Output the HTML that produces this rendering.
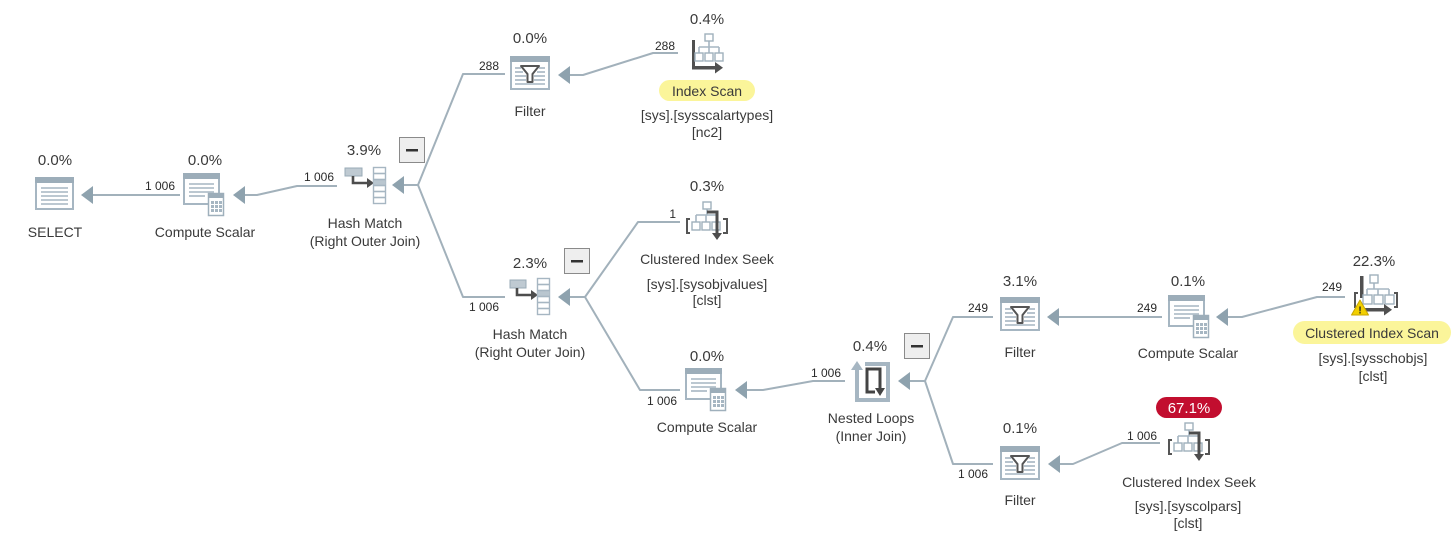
<!DOCTYPE html>
<html><head><meta charset="utf-8">
<style>
html,body{margin:0;padding:0;background:#fff;}
svg{display:block;}
text{font-family:"Liberation Sans",Arial,sans-serif;}
.p{font-size:15px;fill:#3a3a3a;text-anchor:middle;}
.l{font-size:14px;fill:#3a3a3a;text-anchor:middle;}
.e{font-size:12px;fill:#2a2a2a;text-anchor:end;}
.c{fill:none;stroke:#a2b1bb;stroke-width:2;stroke-linejoin:round;}
.ah{fill:#8ea2ae;}
.lb{fill:none;stroke:#a6b6c2;stroke-width:1.6;}
.bx{fill:#fff;stroke:#9fb0bc;stroke-width:1.4;}
.dk{fill:none;stroke:#4d4d4d;stroke-width:2.6;}
</style></head>
<body>
<svg width="1453" height="543" viewBox="0 0 1453 543" xmlns="http://www.w3.org/2000/svg">
<rect width="1453" height="543" fill="#fff"/>

<!-- ===== connectors ===== -->
<!-- SELECT <- CS1 -->
<polyline class="c" points="180,195 90,195"/>
<polygon class="ah" points="81,195 93,186 93,204"/>
<text class="e" x="175" y="190">1 006</text>

<!-- CS1 <- HM1 -->
<polyline class="c" points="337,186 297,186 257,195 243,195"/>
<polygon class="ah" points="233,195 245,186 245,204"/>
<text class="e" x="334" y="181">1 006</text>

<!-- HM1 fork -->
<polyline class="c" points="402,185 418,185"/>
<polygon class="ah" points="392,185 404,176 404,194"/>
<polyline class="c" points="505,74 463,74 418,185 463,297 505,297"/>
<text class="e" x="499" y="70">288</text>
<text class="e" x="499" y="311">1 006</text>

<!-- Filter1 <- IndexScan -->
<polyline class="c" points="678,53 653,53 583,75 568,75"/>
<polygon class="ah" points="558,75 570,66 570,84"/>
<text class="e" x="675" y="50">288</text>

<!-- HM2 fork -->
<polyline class="c" points="568,297 585,297"/>
<polygon class="ah" points="558,297 570,288 570,306"/>
<polyline class="c" points="680,222 638,222 585,297 640,390 680,390"/>
<text class="e" x="676" y="218">1</text>
<text class="e" x="677" y="405">1 006</text>

<!-- CS2 <- NL -->
<polyline class="c" points="845,381 813,381 763,390 745,390"/>
<polygon class="ah" points="735,390 747,381 747,399"/>
<text class="e" x="841" y="377">1 006</text>

<!-- NL fork -->
<polyline class="c" points="908,381 925,381"/>
<polygon class="ah" points="898,381 910,372 910,390"/>
<polyline class="c" points="993,317 953,317 925,381 953,464 993,464"/>
<text class="e" x="988" y="312">249</text>
<text class="e" x="988" y="478">1 006</text>

<!-- Filter2 <- CS3 -->
<polyline class="c" points="1162,317 1057,317"/>
<polygon class="ah" points="1047,317 1059,308 1059,326"/>
<text class="e" x="1157" y="312">249</text>

<!-- CS3 <- CIScan -->
<polyline class="c" points="1345,297 1317,297 1242,317 1226,317"/>
<polygon class="ah" points="1216,317 1228,308 1228,326"/>
<text class="e" x="1342" y="291">249</text>

<!-- Filter3 <- CISeek -->
<polyline class="c" points="1160,443 1122,443 1073,464 1058,464"/>
<polygon class="ah" points="1048,464 1060,455 1060,473"/>
<text class="e" x="1157" y="440">1 006</text>

<!-- ===== SELECT ===== -->
<g>
<rect x="36" y="178" width="37" height="31" fill="#fff" stroke="#a6b6c2" stroke-width="2"/>
<rect x="35" y="177" width="39" height="6" fill="#9cadb9"/>
<line class="lb" x1="41" y1="188" x2="68" y2="188"/>
<line class="lb" x1="41" y1="192" x2="68" y2="192"/>
<line class="lb" x1="41" y1="196" x2="68" y2="196"/>
<line class="lb" x1="41" y1="200" x2="68" y2="200"/>
<line class="lb" x1="41" y1="204" x2="68" y2="204"/>
</g>
<text class="p" x="55" y="165">0.0%</text>
<text class="l" x="55" y="237">SELECT</text>

<!-- ===== Compute Scalar 1 (x0=183,y0=173) ===== -->
<g transform="translate(183,173)">
<rect x="1" y="1" width="35" height="30" fill="#fff" stroke="#a6b6c2" stroke-width="2"/>
<rect x="0" y="0" width="37" height="6" fill="#9cadb9"/>
<line class="lb" x1="6" y1="11" x2="31" y2="11"/>
<line class="lb" x1="6" y1="15" x2="31" y2="15"/>
<line class="lb" x1="6" y1="19" x2="31" y2="19"/>
<line class="lb" x1="6" y1="23" x2="22" y2="23"/>
<rect x="25.5" y="20.5" width="15" height="22" fill="#fff" stroke="#9fb0bc" stroke-width="1.5"/>
<rect x="25" y="20" width="16" height="5" fill="#9cadb9"/>
<g fill="#a6b6c2"><rect x="28" y="28" width="3" height="3"/><rect x="32" y="28" width="3" height="3"/><rect x="36" y="28" width="3" height="3"/><rect x="28" y="32" width="3" height="3"/><rect x="32" y="32" width="3" height="3"/><rect x="36" y="32" width="3" height="3"/><rect x="28" y="36" width="3" height="3"/><rect x="32" y="36" width="3" height="3"/><rect x="36" y="36" width="3" height="3"/></g>
</g>
<text class="p" x="205" y="165">0.0%</text>
<text class="l" x="205" y="237">Compute Scalar</text>

<!-- ===== Hash Match 1 (col 373,167) ===== -->
<g transform="translate(373,167)">
<rect x="-28" y="1" width="17" height="8" fill="#bfcad2" stroke="#9aabb7" stroke-width="1"/>
<path class="dk" d="M-20,9 L-20,16 L-5,16" stroke-width="3"/>
<polygon points="1,16 -6,11 -6,21" fill="#4d4d4d"/>
<rect x="0.5" y="0.5" width="12" height="36" fill="#fff" stroke="#a6b6c2" stroke-width="1.4"/>
<rect x="0.5" y="12.5" width="12" height="6" fill="#b9c6cf"/>
<line class="lb" x1="0" y1="6.5" x2="13" y2="6.5" stroke-width="1"/>
<line class="lb" x1="0" y1="12.5" x2="13" y2="12.5" stroke-width="1"/>
<line class="lb" x1="0" y1="18.5" x2="13" y2="18.5" stroke-width="1"/>
<line class="lb" x1="0" y1="24.5" x2="13" y2="24.5" stroke-width="1"/>
<line class="lb" x1="0" y1="30.5" x2="13" y2="30.5" stroke-width="1"/>
</g>
<text class="p" x="364" y="155">3.9%</text>
<rect x="399.5" y="137.5" width="25" height="25" fill="#eeeeee" stroke="#8a8a8a" stroke-width="1"/>
<rect x="406" y="149" width="12" height="2.5" fill="#333"/>
<text class="l" x="365" y="228">Hash Match</text>
<text class="l" x="365" y="246">(Right Outer Join)</text>

<!-- ===== Filter 1 (510,56) ===== -->
<g transform="translate(510,56)">
<rect x="1" y="1" width="38" height="32" fill="#fff" stroke="#a6b6c2" stroke-width="2"/>
<rect x="0" y="0" width="40" height="6" fill="#9cadb9"/>
<line class="lb" x1="5" y1="12" x2="11" y2="12"/><line class="lb" x1="29" y1="12" x2="35" y2="12"/>
<line class="lb" x1="5" y1="16" x2="13" y2="16"/><line class="lb" x1="27" y1="16" x2="35" y2="16"/>
<line class="lb" x1="5" y1="20" x2="16" y2="20"/><line class="lb" x1="24" y1="20" x2="35" y2="20"/>
<line class="lb" x1="5" y1="24" x2="16" y2="24"/><line class="lb" x1="24" y1="24" x2="35" y2="24"/>
<line class="lb" x1="5" y1="28" x2="35" y2="28"/>
<path d="M11,10 L29,10 L22.5,18 L22.5,26 L17.5,26 L17.5,18 Z" fill="#fff" stroke="#555" stroke-width="2" stroke-linejoin="round"/>
</g>
<text class="p" x="530" y="43">0.0%</text>
<text class="l" x="530" y="116">Filter</text>

<!-- ===== Index Scan ===== -->
<g>
<rect x="692" y="40" width="3" height="29" fill="#505050"/>
<rect x="692" y="66" width="24" height="3.5" fill="#505050"/>
<polygon points="723,67.7 715,62 715,73.5" fill="#505050"/>
<line class="lb" x1="709" y1="41" x2="709" y2="47" stroke-width="1.2"/>
<line class="lb" x1="699" y1="47" x2="719" y2="47" stroke-width="1.2"/>
<line class="lb" x1="699" y1="47" x2="699" y2="53" stroke-width="1.2"/>
<line class="lb" x1="709" y1="47" x2="709" y2="53" stroke-width="1.2"/>
<line class="lb" x1="719" y1="47" x2="719" y2="53" stroke-width="1.2"/>
<rect class="bx" x="705" y="34" width="8" height="7"/>
<rect class="bx" x="695" y="53" width="8" height="8"/>
<rect class="bx" x="705" y="53" width="8" height="8"/>
<rect class="bx" x="715" y="53" width="8" height="8"/>
</g>
<text class="p" x="707" y="24">0.4%</text>
<rect x="659" y="80" width="96" height="21" rx="10.5" fill="#fbf59a"/>
<text class="l" x="707" y="96">Index Scan</text>
<text class="l" x="707" y="120">[sys].[sysscalartypes]</text>
<text class="l" x="707" y="137">[nc2]</text>

<!-- ===== Clustered Index Seek (sysobjvalues) ox=686 oy=202 ===== -->
<g transform="translate(686,202)">
<line class="lb" x1="21" y1="7" x2="21" y2="13" stroke-width="1.2"/>
<line class="lb" x1="10" y1="13" x2="30" y2="13" stroke-width="1.2"/>
<line class="lb" x1="10" y1="13" x2="10" y2="20" stroke-width="1.2"/>
<line class="lb" x1="20" y1="13" x2="20" y2="20" stroke-width="1.2"/>
<rect class="bx" x="17" y="0" width="8" height="7"/>
<rect class="bx" x="6" y="20" width="8" height="8"/>
<rect class="bx" x="16" y="20" width="8" height="8"/>
<rect class="bx" x="26" y="20" width="8" height="8"/>
<path d="M4,17 L1,17 L1,31 L4,31" fill="none" stroke="#555" stroke-width="2"/>
<path d="M37,17 L41,17 L41,31 L37,31" fill="none" stroke="#555" stroke-width="2"/>
<path d="M21,10 L31,10 L31,32" fill="none" stroke="#4d4d4d" stroke-width="3"/>
<polygon points="26,31 36,31 31,38" fill="#4d4d4d"/>
</g>
<text class="p" x="707" y="191">0.3%</text>
<text class="l" x="707" y="264">Clustered Index Seek</text>
<text class="l" x="707" y="289">[sys].[sysobjvalues]</text>
<text class="l" x="707" y="305">[clst]</text>

<!-- ===== Hash Match 2 (col 537,278) ===== -->
<g transform="translate(537,278)">
<rect x="-27" y="2" width="16" height="8" fill="#bfcad2" stroke="#9aabb7" stroke-width="1"/>
<path class="dk" d="M-20,10 L-20,17 L-5,17" stroke-width="3"/>
<polygon points="1,17 -6,12 -6,22" fill="#4d4d4d"/>
<rect x="0.5" y="0.5" width="12" height="36" fill="#fff" stroke="#a6b6c2" stroke-width="1.4"/>
<rect x="0.5" y="12.5" width="12" height="6" fill="#b9c6cf"/>
<line class="lb" x1="0" y1="6.5" x2="13" y2="6.5" stroke-width="1"/>
<line class="lb" x1="0" y1="12.5" x2="13" y2="12.5" stroke-width="1"/>
<line class="lb" x1="0" y1="18.5" x2="13" y2="18.5" stroke-width="1"/>
<line class="lb" x1="0" y1="24.5" x2="13" y2="24.5" stroke-width="1"/>
<line class="lb" x1="0" y1="30.5" x2="13" y2="30.5" stroke-width="1"/>
</g>
<text class="p" x="530" y="268">2.3%</text>
<rect x="564.5" y="248.5" width="25" height="25" fill="#eeeeee" stroke="#8a8a8a" stroke-width="1"/>
<rect x="571" y="260" width="12" height="2.5" fill="#333"/>
<text class="l" x="530" y="339">Hash Match</text>
<text class="l" x="530" y="357">(Right Outer Join)</text>

<!-- ===== Compute Scalar 2 (685,368) ===== -->
<g transform="translate(685,368)">
<rect x="1" y="1" width="35" height="30" fill="#fff" stroke="#a6b6c2" stroke-width="2"/>
<rect x="0" y="0" width="37" height="6" fill="#9cadb9"/>
<line class="lb" x1="6" y1="11" x2="31" y2="11"/>
<line class="lb" x1="6" y1="15" x2="31" y2="15"/>
<line class="lb" x1="6" y1="19" x2="31" y2="19"/>
<line class="lb" x1="6" y1="23" x2="22" y2="23"/>
<rect x="25.5" y="20.5" width="15" height="22" fill="#fff" stroke="#9fb0bc" stroke-width="1.5"/>
<rect x="25" y="20" width="16" height="5" fill="#9cadb9"/>
<g fill="#a6b6c2"><rect x="28" y="28" width="3" height="3"/><rect x="32" y="28" width="3" height="3"/><rect x="36" y="28" width="3" height="3"/><rect x="28" y="32" width="3" height="3"/><rect x="32" y="32" width="3" height="3"/><rect x="36" y="32" width="3" height="3"/><rect x="28" y="36" width="3" height="3"/><rect x="32" y="36" width="3" height="3"/><rect x="36" y="36" width="3" height="3"/></g>
</g>
<text class="p" x="707" y="361">0.0%</text>
<text class="l" x="707" y="432">Compute Scalar</text>

<!-- ===== Nested Loops ===== -->
<g>
<path d="M857,370 L857,400 L888,400 L888,364 L865,364" fill="none" stroke="#a6b6c2" stroke-width="4"/>
<polygon points="857,361 851,370 863,370" fill="#a6b6c2"/>
<path d="M875,392 L867,392 L867,369 L880,369 L880,389" fill="none" stroke="#444" stroke-width="3"/>
<polygon points="880,396 875,388 885,388" fill="#444"/>
</g>
<text class="p" x="870" y="351">0.4%</text>
<rect x="904.5" y="333.5" width="25" height="25" fill="#eeeeee" stroke="#8a8a8a" stroke-width="1"/>
<rect x="911" y="345" width="12" height="2.5" fill="#333"/>
<text class="l" x="871" y="423">Nested Loops</text>
<text class="l" x="871" y="441">(Inner Join)</text>

<!-- ===== Filter 2 (1000,297) ===== -->
<g transform="translate(1000,297)">
<rect x="1" y="1" width="38" height="32" fill="#fff" stroke="#a6b6c2" stroke-width="2"/>
<rect x="0" y="0" width="40" height="6" fill="#9cadb9"/>
<line class="lb" x1="5" y1="12" x2="11" y2="12"/><line class="lb" x1="29" y1="12" x2="35" y2="12"/>
<line class="lb" x1="5" y1="16" x2="13" y2="16"/><line class="lb" x1="27" y1="16" x2="35" y2="16"/>
<line class="lb" x1="5" y1="20" x2="16" y2="20"/><line class="lb" x1="24" y1="20" x2="35" y2="20"/>
<line class="lb" x1="5" y1="24" x2="16" y2="24"/><line class="lb" x1="24" y1="24" x2="35" y2="24"/>
<line class="lb" x1="5" y1="28" x2="35" y2="28"/>
<path d="M11,10 L29,10 L22.5,18 L22.5,26 L17.5,26 L17.5,18 Z" fill="#fff" stroke="#555" stroke-width="2" stroke-linejoin="round"/>
</g>
<text class="p" x="1020" y="286">3.1%</text>
<text class="l" x="1020" y="357">Filter</text>

<!-- ===== Compute Scalar 3 (1168,295) ===== -->
<g transform="translate(1168,295)">
<rect x="1" y="1" width="35" height="30" fill="#fff" stroke="#a6b6c2" stroke-width="2"/>
<rect x="0" y="0" width="37" height="6" fill="#9cadb9"/>
<line class="lb" x1="6" y1="11" x2="31" y2="11"/>
<line class="lb" x1="6" y1="15" x2="31" y2="15"/>
<line class="lb" x1="6" y1="19" x2="31" y2="19"/>
<line class="lb" x1="6" y1="23" x2="22" y2="23"/>
<rect x="25.5" y="20.5" width="15" height="22" fill="#fff" stroke="#9fb0bc" stroke-width="1.5"/>
<rect x="25" y="20" width="16" height="5" fill="#9cadb9"/>
<g fill="#a6b6c2"><rect x="28" y="28" width="3" height="3"/><rect x="32" y="28" width="3" height="3"/><rect x="36" y="28" width="3" height="3"/><rect x="28" y="32" width="3" height="3"/><rect x="32" y="32" width="3" height="3"/><rect x="36" y="32" width="3" height="3"/><rect x="28" y="36" width="3" height="3"/><rect x="32" y="36" width="3" height="3"/><rect x="36" y="36" width="3" height="3"/></g>
</g>
<text class="p" x="1188" y="286">0.1%</text>
<text class="l" x="1188" y="358">Compute Scalar</text>

<!-- ===== Clustered Index Scan ===== -->
<g>
<rect x="1360" y="276" width="3.5" height="22" fill="#505050"/>
<line class="lb" x1="1374" y1="283" x2="1374" y2="289" stroke-width="1.2"/>
<line class="lb" x1="1367" y1="289" x2="1389" y2="289" stroke-width="1.2"/>
<line class="lb" x1="1367" y1="289" x2="1367" y2="295" stroke-width="1.2"/>
<line class="lb" x1="1378" y1="289" x2="1378" y2="295" stroke-width="1.2"/>
<line class="lb" x1="1389" y1="289" x2="1389" y2="295" stroke-width="1.2"/>
<rect class="bx" x="1370" y="275" width="8" height="8"/>
<rect class="bx" x="1363" y="295" width="9" height="9"/>
<rect class="bx" x="1374" y="295" width="9" height="9"/>
<rect class="bx" x="1385" y="295" width="9" height="9"/>
<path d="M1358,293 L1355,293 L1355,307 L1358,307" fill="none" stroke="#555" stroke-width="2"/>
<path d="M1394,293 L1397,293 L1397,307 L1394,307" fill="none" stroke="#555" stroke-width="2"/>
<rect x="1362" y="308" width="23" height="3.5" fill="#505050"/>
<polygon points="1392,309.7 1384,304 1384,315.5" fill="#505050"/>
<polygon points="1360,300 1368.5,315 1351.5,315" fill="#f2cf00" stroke="#c8a600" stroke-width="1" stroke-linejoin="round"/>
<text x="1360" y="313.5" font-size="10" font-weight="bold" fill="#222" text-anchor="middle">!</text>
</g>
<text class="p" x="1374" y="266">22.3%</text>
<rect x="1293" y="321" width="158" height="23" rx="11.5" fill="#fbf59a"/>
<text class="l" x="1372" y="338">Clustered Index Scan</text>
<text class="l" x="1373" y="363">[sys].[sysschobjs]</text>
<text class="l" x="1373" y="381">[clst]</text>

<!-- ===== Filter 3 (1000,446) ===== -->
<g transform="translate(1000,446)">
<rect x="1" y="1" width="38" height="32" fill="#fff" stroke="#a6b6c2" stroke-width="2"/>
<rect x="0" y="0" width="40" height="6" fill="#9cadb9"/>
<line class="lb" x1="5" y1="12" x2="11" y2="12"/><line class="lb" x1="29" y1="12" x2="35" y2="12"/>
<line class="lb" x1="5" y1="16" x2="13" y2="16"/><line class="lb" x1="27" y1="16" x2="35" y2="16"/>
<line class="lb" x1="5" y1="20" x2="16" y2="20"/><line class="lb" x1="24" y1="20" x2="35" y2="20"/>
<line class="lb" x1="5" y1="24" x2="16" y2="24"/><line class="lb" x1="24" y1="24" x2="35" y2="24"/>
<line class="lb" x1="5" y1="28" x2="35" y2="28"/>
<path d="M11,10 L29,10 L22.5,18 L22.5,26 L17.5,26 L17.5,18 Z" fill="#fff" stroke="#555" stroke-width="2" stroke-linejoin="round"/>
</g>
<text class="p" x="1020" y="433">0.1%</text>
<text class="l" x="1020" y="505">Filter</text>

<!-- ===== Clustered Index Seek (syscolpars) ox=1168 oy=423 ===== -->
<g transform="translate(1168,423)">
<line class="lb" x1="21" y1="7" x2="21" y2="13" stroke-width="1.2"/>
<line class="lb" x1="10" y1="13" x2="30" y2="13" stroke-width="1.2"/>
<line class="lb" x1="10" y1="13" x2="10" y2="20" stroke-width="1.2"/>
<line class="lb" x1="20" y1="13" x2="20" y2="20" stroke-width="1.2"/>
<rect class="bx" x="17" y="0" width="8" height="7"/>
<rect class="bx" x="6" y="20" width="8" height="8"/>
<rect class="bx" x="16" y="20" width="8" height="8"/>
<rect class="bx" x="26" y="20" width="8" height="8"/>
<path d="M4,17 L1,17 L1,31 L4,31" fill="none" stroke="#555" stroke-width="2"/>
<path d="M37,17 L41,17 L41,31 L37,31" fill="none" stroke="#555" stroke-width="2"/>
<path d="M21,10 L31,10 L31,32" fill="none" stroke="#4d4d4d" stroke-width="3"/>
<polygon points="26,31 36,31 31,38" fill="#4d4d4d"/>
</g>
<rect x="1156" y="397" width="66" height="21" rx="10.5" fill="#c20e2f"/>
<text x="1189" y="413" font-size="15" fill="#fff" text-anchor="middle">67.1%</text>
<text class="l" x="1189" y="487">Clustered Index Seek</text>
<text class="l" x="1188" y="511">[sys].[syscolpars]</text>
<text class="l" x="1188" y="528">[clst]</text>
</svg>
</body></html>
